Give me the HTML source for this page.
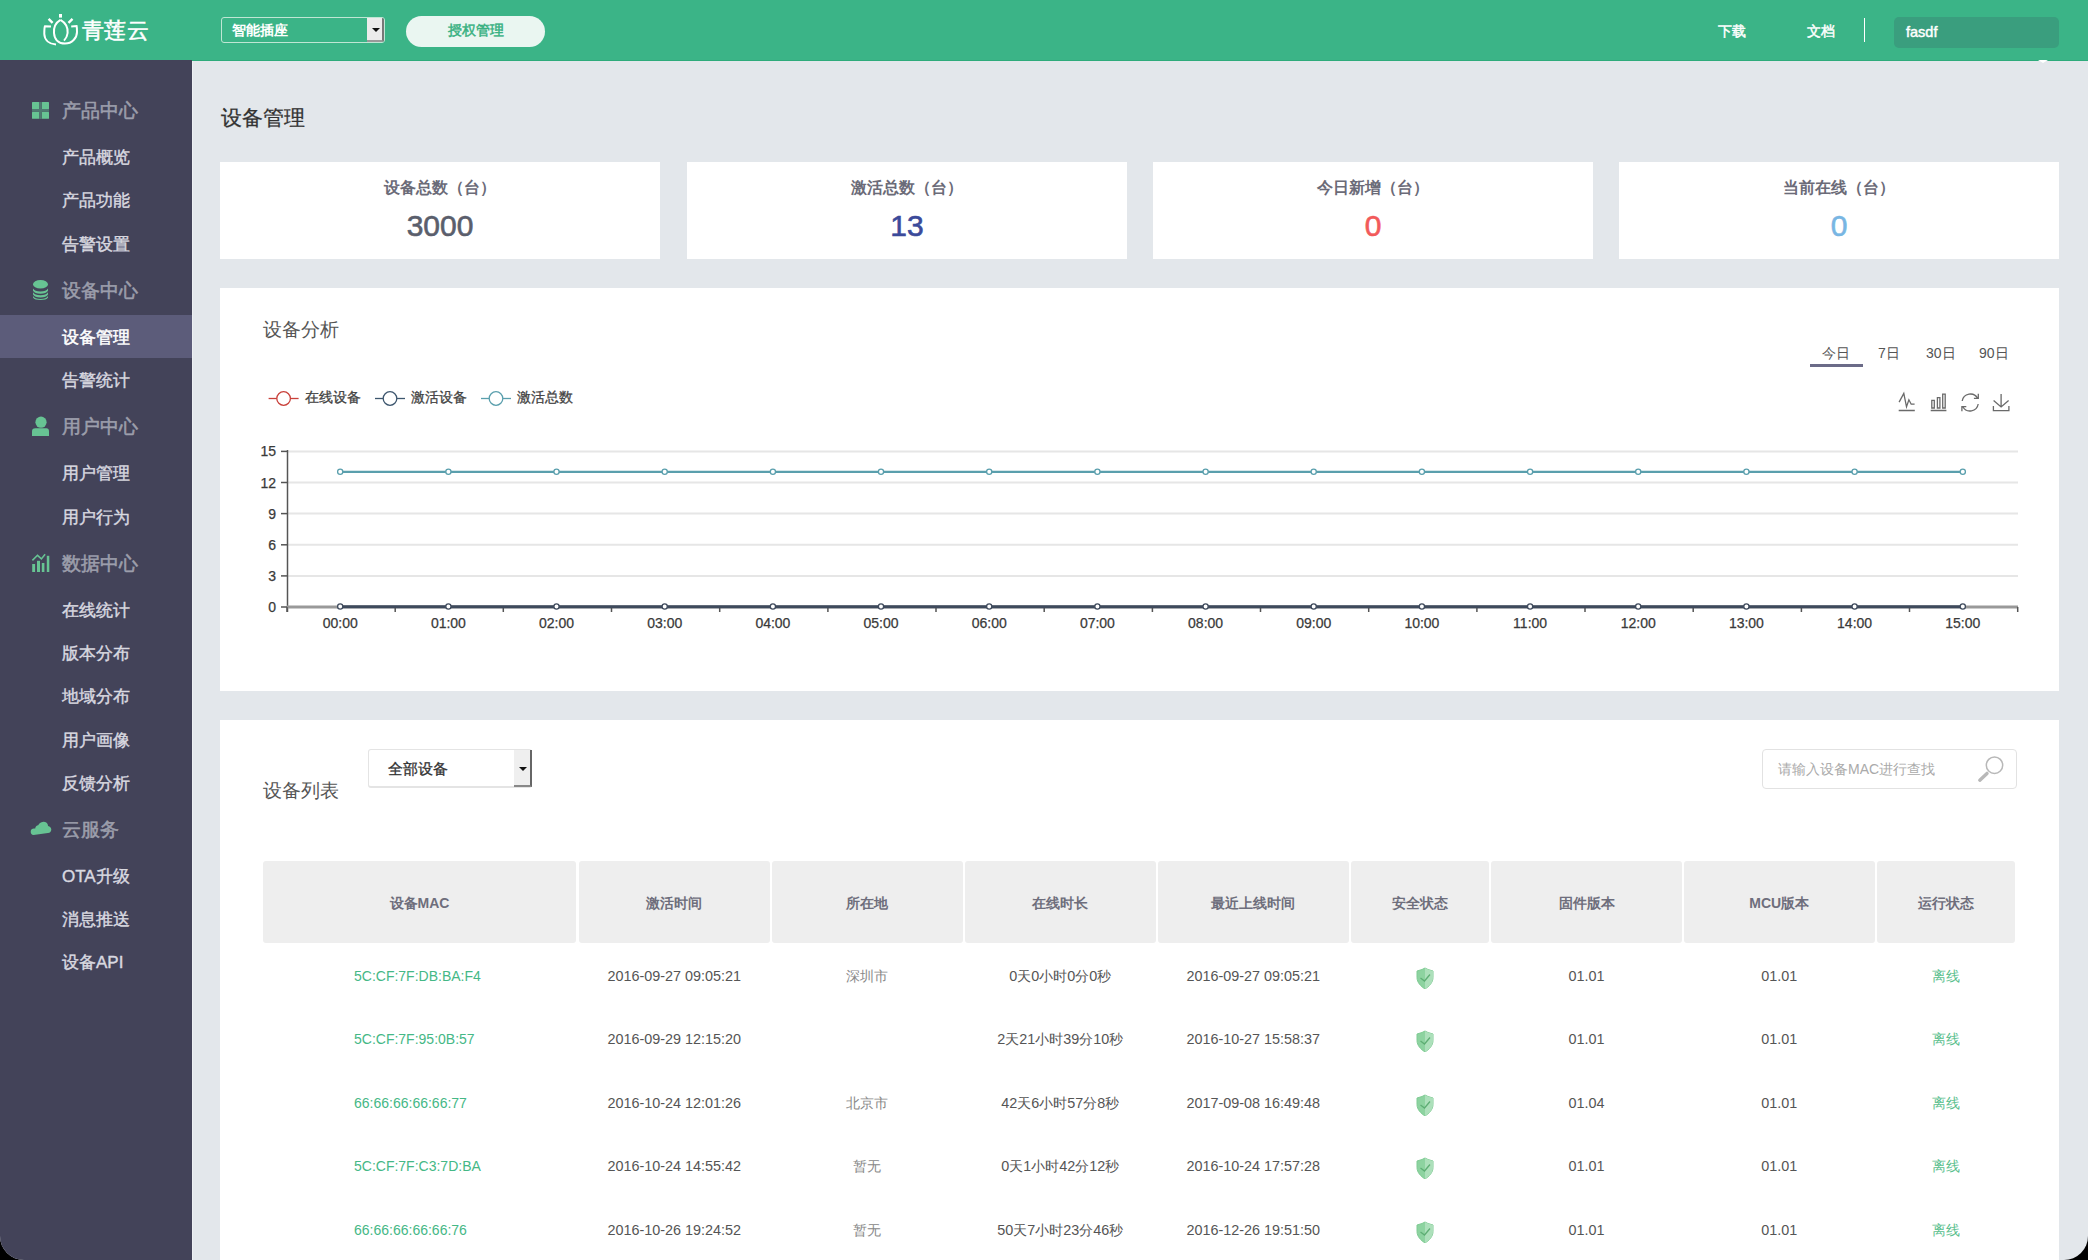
<!DOCTYPE html>
<html><head><meta charset="utf-8">
<style>
*{box-sizing:border-box;margin:0;padding:0}
html,body{width:2088px;height:1260px;overflow:hidden;background:#000}
body{font-family:"Liberation Sans",sans-serif;position:relative}
#app{position:absolute;left:0;top:0;width:2088px;height:1260px;background:#e3e7eb;border-radius:0 0 24px 24px;overflow:hidden}
.abs{position:absolute}
#hdr{position:absolute;left:0;top:0;width:2088px;height:60px;background:#3bb487}
#side{position:absolute;left:0;top:60px;width:192px;height:1200px;background:#434359}
.grp{position:absolute;left:62px;font-size:19px;color:#9c9eab;line-height:24px;white-space:nowrap;-webkit-text-stroke:0.55px #9c9eab}
.itm{position:absolute;left:62px;font-size:17px;color:#d9d9e0;line-height:20px;white-space:nowrap;-webkit-text-stroke:0.4px #d9d9e0}
.ico{position:absolute;left:31px}
.card{position:absolute;background:#fff}
.stt{position:absolute;left:0;right:0;text-align:center;font-size:16px;color:#6b6b78;top:16px;line-height:20px;font-weight:bold}
.stn{position:absolute;left:0;right:0;text-align:center;font-size:30px;top:46.5px;line-height:34px;-webkit-text-stroke:0.6px currentColor}
.lg{position:absolute;font-size:14.3px;color:#444;line-height:18px;white-space:nowrap;-webkit-text-stroke:0.3px #444}
.tab{position:absolute;font-size:14px;color:#555;line-height:18px;white-space:nowrap}
.th{position:absolute;top:861px;height:82px;background:#eeeeee;border-radius:3px;text-align:center;line-height:84px;font-size:14px;font-weight:bold;color:#6e6e7c}
.td{position:absolute;font-size:14.4px;color:#555;line-height:18px;white-space:nowrap;text-align:center}
.mac{color:#45b886;text-align:left;font-size:14px}
.loc{color:#888}
.off{color:#5cbf8f}
</style></head>
<body>
<div id="app">

  <div id="hdr">
    <svg class="abs" style="left:0;top:0" width="90" height="60" viewBox="0 0 90 60">
      <g fill="none" stroke="#fff" stroke-width="2">
        <path d="M60.5 19.8C55 23 53.6 28 54 33C54.5 40 59 43.6 65 43.6C72 43.6 77 38 77 32C77 29 76.9 27 76.6 26L71.2 26.6"/>
        <path d="M60.5 19.8C66 23 68 28 67.6 33C67.2 37 65.6 39 64 40.6"/>
        <path d="M51 26.5L45 26.2C44.4 27 44.3 30 44.3 34C44.5 40 49 44 56 44.6"/>
        <path d="M48.6 18.8L52.6 22.8M72.5 18.8L68.5 22.8" stroke-width="2.4"/>
      </g>
      <rect x="59" y="14" width="3" height="3.6" fill="#fff"/>
    </svg>
    <div class="abs" style="left:82px;top:17px;font-size:22px;color:#fff;line-height:28px;letter-spacing:0.3px;-webkit-text-stroke:0.5px #fff">青莲云</div>
    <div class="abs" style="left:221px;top:17px;width:164px;height:26px;border:1px solid #bfe6d4;border-radius:3px"></div>
    <div class="abs" style="left:367px;top:18px;width:17px;height:24px;background:#ececec;border-right:2px solid #777;border-bottom:2px solid #999;border-radius:0 2px 2px 0"></div>
    <div class="abs" style="left:371.5px;top:27.5px;width:0;height:0;border-left:4px solid transparent;border-right:4px solid transparent;border-top:4.5px solid #111"></div>
    <div class="abs" style="left:232px;top:20px;font-size:14px;color:#fff;font-weight:bold;line-height:20px">智能插座</div>
    <div class="abs" style="left:406px;top:15.5px;width:139px;height:31px;background:#eaf6f1;border-radius:16px;text-align:center;font-size:14px;color:#35b080;line-height:29px;-webkit-text-stroke:0.45px #35b080">授权管理</div>
    <div class="abs" style="left:1718px;top:21px;font-size:14px;color:#fff;line-height:20px;-webkit-text-stroke:0.45px #fff">下载</div>
    <div class="abs" style="left:1807px;top:21px;font-size:14px;color:#fff;line-height:20px;-webkit-text-stroke:0.45px #fff">文档</div>
    <div class="abs" style="left:1864px;top:18px;width:1px;height:24px;background:#fff"></div>
    <div class="abs" style="left:1894px;top:17px;width:165px;height:31px;background:#3a9e7e;border-radius:5px"></div>
    <div class="abs" style="left:1906px;top:22px;font-size:14.5px;color:#fff;line-height:20px;-webkit-text-stroke:0.45px #fff">fasdf</div>
  </div>
  <div class="abs" style="left:192px;top:60px;width:1896px;height:1px;background:#2eab7b"></div>
  <div class="abs" style="left:192px;top:61px;width:1px;height:1199px;background:#edf0f3"></div>
  <div class="abs" style="left:2038px;top:60px;width:0;height:0;border-left:5px solid transparent;border-right:5px solid transparent;border-top:3px solid #fff"></div>
  <div id="side">
    <div class="abs" style="left:0;top:255px;width:192px;height:43px;background:#5c5c7a"></div>
    <div class="grp" style="top:39px">产品中心</div>
    <div class="itm" style="top:87.5px">产品概览</div>
    <div class="itm" style="top:130.5px">产品功能</div>
    <div class="itm" style="top:174.5px">告警设置</div>
    <div class="grp" style="top:219px">设备中心</div>
    <div class="itm" style="top:267.5px;color:#fff;-webkit-text-stroke:0.5px #fff">设备管理</div>
    <div class="itm" style="top:310.5px">告警统计</div>
    <div class="grp" style="top:355px">用户中心</div>
    <div class="itm" style="top:403.5px">用户管理</div>
    <div class="itm" style="top:447.5px">用户行为</div>
    <div class="grp" style="top:492px">数据中心</div>
    <div class="itm" style="top:540.5px">在线统计</div>
    <div class="itm" style="top:583.5px">版本分布</div>
    <div class="itm" style="top:626.5px">地域分布</div>
    <div class="itm" style="top:670.5px">用户画像</div>
    <div class="itm" style="top:713.5px">反馈分析</div>
    <div class="grp" style="top:758px">云服务</div>
    <div class="itm" style="top:806.5px">OTA升级</div>
    <div class="itm" style="top:849.5px">消息推送</div>
    <div class="itm" style="top:892.5px">设备API</div>
    <svg class="abs" style="left:0;top:-60px" width="60" height="900" viewBox="0 0 60 900">
      <g fill="#67c393">
        <rect x="32" y="102" width="7.3" height="7" rx="0.5"/><rect x="41.8" y="102" width="7.2" height="7" rx="0.5"/>
        <rect x="32" y="111.8" width="7.3" height="7" rx="0.5"/><rect x="41.8" y="111.8" width="7.2" height="7" rx="0.5"/>
        <rect x="39.3" y="102" width="2.5" height="17" fill="#4f7a72"/><rect x="32" y="109" width="17" height="2.8" fill="#4f7a72"/>
        <ellipse cx="40.5" cy="284.3" rx="7.5" ry="4.3"/>
        <path d="M33 288.5c1 1.8 3.8 3 7.5 3s6.5-1.2 7.5-3v2.2c-1 1.8-3.8 3-7.5 3s-6.5-1.2-7.5-3z"/>
        <path d="M33 292.3c1 1.8 3.8 3 7.5 3s6.5-1.2 7.5-3v2.2c-1 1.8-3.8 3-7.5 3s-6.5-1.2-7.5-3z"/>
        <path d="M33 296c1 1.8 3.8 3 7.5 3s6.5-1.2 7.5-3v1.5c-1 1.8-3.8 2.5-7.5 2.5s-6.5-.7-7.5-2.5z"/>
        <circle cx="41" cy="422.2" r="5.6"/>
        <path d="M35.5 428.3h11c1.5 0 2.5 1 2.5 3v4.7h-17v-4.7c0-2 1-3 3.5-3z"/>
        <rect x="32.2" y="564" width="2.9" height="8"/><rect x="37" y="560.8" width="3" height="11.2"/>
        <rect x="41.8" y="563" width="2.6" height="9"/><rect x="46.8" y="555.8" width="2.5" height="16.2"/>
        <path d="M32.4 560.4L37.5 555.3L41.4 558.9L45.1 554.2" fill="none" stroke="#67c393" stroke-width="1.6"/>
        <path d="M33.5 835c-1.8 0-2.8-1.6-2.8-3.2c0-2 1.4-3.2 3.2-3.2h1.3c.2-2 1.4-3.2 3-3.4c.5-1 2.5-3.4 5.2-3.4c2.6 0 4.4 1.4 4.7 4.2c1.8 .3 3.2 1.6 3.2 3.6c0 2-1.3 3.4-3.3 3.4z"/>
      </g>
    </svg>
  </div>

  <div class="abs" style="left:221px;top:104px;font-size:21.3px;color:#333;line-height:28px;-webkit-text-stroke:0.25px #333">设备管理</div>
  <div class="card" style="left:220px;top:162px;width:440px;height:97px"><div class="stt">设备总数（台）</div><div class="stn" style="color:#5a5e6c">3000</div></div>
  <div class="card" style="left:687px;top:162px;width:440px;height:97px"><div class="stt">激活总数（台）</div><div class="stn" style="color:#3b4a9a">13</div></div>
  <div class="card" style="left:1153px;top:162px;width:440px;height:97px"><div class="stt">今日新增（台）</div><div class="stn" style="color:#f25a5a">0</div></div>
  <div class="card" style="left:1619px;top:162px;width:440px;height:97px"><div class="stt">当前在线（台）</div><div class="stn" style="color:#78b6e3">0</div></div>
  <div class="card" id="chart" style="left:220px;top:288px;width:1839px;height:403px"></div>
<svg class="abs" style="left:221px;top:288px" width="1837" height="402" viewBox="221 288 1837 402">
<line x1="281" y1="607.0" x2="287" y2="607.0" stroke="#555" stroke-width="1.5"/>
<text x="276" y="612.0" text-anchor="end" font-size="14" fill="#3a3a3a" stroke="#3a3a3a" stroke-width="0.25">0</text>
<line x1="287" y1="575.9" x2="2018" y2="575.9" stroke="#e6e6e6" stroke-width="2"/>
<line x1="281" y1="575.9" x2="287" y2="575.9" stroke="#555" stroke-width="1.5"/>
<text x="276" y="580.9" text-anchor="end" font-size="14" fill="#3a3a3a" stroke="#3a3a3a" stroke-width="0.25">3</text>
<line x1="287" y1="544.8" x2="2018" y2="544.8" stroke="#e6e6e6" stroke-width="2"/>
<line x1="281" y1="544.8" x2="287" y2="544.8" stroke="#555" stroke-width="1.5"/>
<text x="276" y="549.8" text-anchor="end" font-size="14" fill="#3a3a3a" stroke="#3a3a3a" stroke-width="0.25">6</text>
<line x1="287" y1="513.6" x2="2018" y2="513.6" stroke="#e6e6e6" stroke-width="2"/>
<line x1="281" y1="513.6" x2="287" y2="513.6" stroke="#555" stroke-width="1.5"/>
<text x="276" y="518.6" text-anchor="end" font-size="14" fill="#3a3a3a" stroke="#3a3a3a" stroke-width="0.25">9</text>
<line x1="287" y1="482.5" x2="2018" y2="482.5" stroke="#e6e6e6" stroke-width="2"/>
<line x1="281" y1="482.5" x2="287" y2="482.5" stroke="#555" stroke-width="1.5"/>
<text x="276" y="487.5" text-anchor="end" font-size="14" fill="#3a3a3a" stroke="#3a3a3a" stroke-width="0.25">12</text>
<line x1="287" y1="451.4" x2="2018" y2="451.4" stroke="#e6e6e6" stroke-width="2"/>
<line x1="281" y1="451.4" x2="287" y2="451.4" stroke="#555" stroke-width="1.5"/>
<text x="276" y="456.4" text-anchor="end" font-size="14" fill="#3a3a3a" stroke="#3a3a3a" stroke-width="0.25">15</text>
<line x1="287.5" y1="450" x2="287.5" y2="612" stroke="#555" stroke-width="1.5"/>
<line x1="287" y1="607" x2="2018" y2="607" stroke="#999" stroke-width="3"/>
<line x1="287.0" y1="607" x2="287.0" y2="612" stroke="#555" stroke-width="1.5"/>
<line x1="395.2" y1="607" x2="395.2" y2="612" stroke="#555" stroke-width="1.5"/>
<line x1="503.3" y1="607" x2="503.3" y2="612" stroke="#555" stroke-width="1.5"/>
<line x1="611.5" y1="607" x2="611.5" y2="612" stroke="#555" stroke-width="1.5"/>
<line x1="719.7" y1="607" x2="719.7" y2="612" stroke="#555" stroke-width="1.5"/>
<line x1="827.9" y1="607" x2="827.9" y2="612" stroke="#555" stroke-width="1.5"/>
<line x1="936.0" y1="607" x2="936.0" y2="612" stroke="#555" stroke-width="1.5"/>
<line x1="1044.2" y1="607" x2="1044.2" y2="612" stroke="#555" stroke-width="1.5"/>
<line x1="1152.4" y1="607" x2="1152.4" y2="612" stroke="#555" stroke-width="1.5"/>
<line x1="1260.5" y1="607" x2="1260.5" y2="612" stroke="#555" stroke-width="1.5"/>
<line x1="1368.7" y1="607" x2="1368.7" y2="612" stroke="#555" stroke-width="1.5"/>
<line x1="1476.9" y1="607" x2="1476.9" y2="612" stroke="#555" stroke-width="1.5"/>
<line x1="1585.0" y1="607" x2="1585.0" y2="612" stroke="#555" stroke-width="1.5"/>
<line x1="1693.2" y1="607" x2="1693.2" y2="612" stroke="#555" stroke-width="1.5"/>
<line x1="1801.4" y1="607" x2="1801.4" y2="612" stroke="#555" stroke-width="1.5"/>
<line x1="1909.5" y1="607" x2="1909.5" y2="612" stroke="#555" stroke-width="1.5"/>
<line x1="2017.7" y1="607" x2="2017.7" y2="612" stroke="#555" stroke-width="1.5"/>
<text x="340.2" y="627.6" text-anchor="middle" font-size="14" fill="#3a3a3a" stroke="#3a3a3a" stroke-width="0.25">00:00</text>
<text x="448.4" y="627.6" text-anchor="middle" font-size="14" fill="#3a3a3a" stroke="#3a3a3a" stroke-width="0.25">01:00</text>
<text x="556.5" y="627.6" text-anchor="middle" font-size="14" fill="#3a3a3a" stroke="#3a3a3a" stroke-width="0.25">02:00</text>
<text x="664.7" y="627.6" text-anchor="middle" font-size="14" fill="#3a3a3a" stroke="#3a3a3a" stroke-width="0.25">03:00</text>
<text x="772.9" y="627.6" text-anchor="middle" font-size="14" fill="#3a3a3a" stroke="#3a3a3a" stroke-width="0.25">04:00</text>
<text x="881.0" y="627.6" text-anchor="middle" font-size="14" fill="#3a3a3a" stroke="#3a3a3a" stroke-width="0.25">05:00</text>
<text x="989.2" y="627.6" text-anchor="middle" font-size="14" fill="#3a3a3a" stroke="#3a3a3a" stroke-width="0.25">06:00</text>
<text x="1097.4" y="627.6" text-anchor="middle" font-size="14" fill="#3a3a3a" stroke="#3a3a3a" stroke-width="0.25">07:00</text>
<text x="1205.6" y="627.6" text-anchor="middle" font-size="14" fill="#3a3a3a" stroke="#3a3a3a" stroke-width="0.25">08:00</text>
<text x="1313.7" y="627.6" text-anchor="middle" font-size="14" fill="#3a3a3a" stroke="#3a3a3a" stroke-width="0.25">09:00</text>
<text x="1421.9" y="627.6" text-anchor="middle" font-size="14" fill="#3a3a3a" stroke="#3a3a3a" stroke-width="0.25">10:00</text>
<text x="1530.1" y="627.6" text-anchor="middle" font-size="14" fill="#3a3a3a" stroke="#3a3a3a" stroke-width="0.25">11:00</text>
<text x="1638.2" y="627.6" text-anchor="middle" font-size="14" fill="#3a3a3a" stroke="#3a3a3a" stroke-width="0.25">12:00</text>
<text x="1746.4" y="627.6" text-anchor="middle" font-size="14" fill="#3a3a3a" stroke="#3a3a3a" stroke-width="0.25">13:00</text>
<text x="1854.6" y="627.6" text-anchor="middle" font-size="14" fill="#3a3a3a" stroke="#3a3a3a" stroke-width="0.25">14:00</text>
<text x="1962.8" y="627.6" text-anchor="middle" font-size="14" fill="#3a3a3a" stroke="#3a3a3a" stroke-width="0.25">15:00</text>
<line x1="340.2" y1="471.8" x2="1962.8" y2="471.8" stroke="#5a9fad" stroke-width="2.2"/>
<line x1="340.2" y1="606.8" x2="1962.8" y2="606.8" stroke="#3e4a5c" stroke-width="3"/>
<circle cx="340.2" cy="471.8" r="2.6" fill="#fff" stroke="#5a9fad" stroke-width="1.3"/>
<circle cx="340.2" cy="606.5" r="2.6" fill="#fff" stroke="#3e4a5c" stroke-width="1.3"/>
<circle cx="448.4" cy="471.8" r="2.6" fill="#fff" stroke="#5a9fad" stroke-width="1.3"/>
<circle cx="448.4" cy="606.5" r="2.6" fill="#fff" stroke="#3e4a5c" stroke-width="1.3"/>
<circle cx="556.5" cy="471.8" r="2.6" fill="#fff" stroke="#5a9fad" stroke-width="1.3"/>
<circle cx="556.5" cy="606.5" r="2.6" fill="#fff" stroke="#3e4a5c" stroke-width="1.3"/>
<circle cx="664.7" cy="471.8" r="2.6" fill="#fff" stroke="#5a9fad" stroke-width="1.3"/>
<circle cx="664.7" cy="606.5" r="2.6" fill="#fff" stroke="#3e4a5c" stroke-width="1.3"/>
<circle cx="772.9" cy="471.8" r="2.6" fill="#fff" stroke="#5a9fad" stroke-width="1.3"/>
<circle cx="772.9" cy="606.5" r="2.6" fill="#fff" stroke="#3e4a5c" stroke-width="1.3"/>
<circle cx="881.0" cy="471.8" r="2.6" fill="#fff" stroke="#5a9fad" stroke-width="1.3"/>
<circle cx="881.0" cy="606.5" r="2.6" fill="#fff" stroke="#3e4a5c" stroke-width="1.3"/>
<circle cx="989.2" cy="471.8" r="2.6" fill="#fff" stroke="#5a9fad" stroke-width="1.3"/>
<circle cx="989.2" cy="606.5" r="2.6" fill="#fff" stroke="#3e4a5c" stroke-width="1.3"/>
<circle cx="1097.4" cy="471.8" r="2.6" fill="#fff" stroke="#5a9fad" stroke-width="1.3"/>
<circle cx="1097.4" cy="606.5" r="2.6" fill="#fff" stroke="#3e4a5c" stroke-width="1.3"/>
<circle cx="1205.6" cy="471.8" r="2.6" fill="#fff" stroke="#5a9fad" stroke-width="1.3"/>
<circle cx="1205.6" cy="606.5" r="2.6" fill="#fff" stroke="#3e4a5c" stroke-width="1.3"/>
<circle cx="1313.7" cy="471.8" r="2.6" fill="#fff" stroke="#5a9fad" stroke-width="1.3"/>
<circle cx="1313.7" cy="606.5" r="2.6" fill="#fff" stroke="#3e4a5c" stroke-width="1.3"/>
<circle cx="1421.9" cy="471.8" r="2.6" fill="#fff" stroke="#5a9fad" stroke-width="1.3"/>
<circle cx="1421.9" cy="606.5" r="2.6" fill="#fff" stroke="#3e4a5c" stroke-width="1.3"/>
<circle cx="1530.1" cy="471.8" r="2.6" fill="#fff" stroke="#5a9fad" stroke-width="1.3"/>
<circle cx="1530.1" cy="606.5" r="2.6" fill="#fff" stroke="#3e4a5c" stroke-width="1.3"/>
<circle cx="1638.2" cy="471.8" r="2.6" fill="#fff" stroke="#5a9fad" stroke-width="1.3"/>
<circle cx="1638.2" cy="606.5" r="2.6" fill="#fff" stroke="#3e4a5c" stroke-width="1.3"/>
<circle cx="1746.4" cy="471.8" r="2.6" fill="#fff" stroke="#5a9fad" stroke-width="1.3"/>
<circle cx="1746.4" cy="606.5" r="2.6" fill="#fff" stroke="#3e4a5c" stroke-width="1.3"/>
<circle cx="1854.6" cy="471.8" r="2.6" fill="#fff" stroke="#5a9fad" stroke-width="1.3"/>
<circle cx="1854.6" cy="606.5" r="2.6" fill="#fff" stroke="#3e4a5c" stroke-width="1.3"/>
<circle cx="1962.8" cy="471.8" r="2.6" fill="#fff" stroke="#5a9fad" stroke-width="1.3"/>
<circle cx="1962.8" cy="606.5" r="2.6" fill="#fff" stroke="#3e4a5c" stroke-width="1.3"/>
<line x1="268.6" y1="398.5" x2="298.6" y2="398.5" stroke="#c9403a" stroke-width="1.3"/>
<circle cx="283.6" cy="398.5" r="6.8" fill="#fff" stroke="#c9403a" stroke-width="1.3"/>
<line x1="375" y1="398.5" x2="405" y2="398.5" stroke="#3d566e" stroke-width="1.3"/>
<circle cx="390" cy="398.5" r="6.8" fill="#fff" stroke="#3d566e" stroke-width="1.3"/>
<line x1="481" y1="398.5" x2="511" y2="398.5" stroke="#5a9fad" stroke-width="1.3"/>
<circle cx="496" cy="398.5" r="6.8" fill="#fff" stroke="#5a9fad" stroke-width="1.3"/>
<g fill="none" stroke="#6a6a6a" stroke-width="1.3">
<path d="M1898.7 410.5h16.1M1899.1 402.1L1903.8 393.4L1906.5 406.8L1908.9 399.8L1911.2 404.2H1914.6"/>
<path d="M1930.7 410.5h15.7M1931.8 408v-7.6h2.5v7.6zM1937.4 408v-10.4h2.5v10.4zM1942.7 408v-13.8h2.5v13.8z"/>
<path d="M1962.2 401A8.3 8.3 0 0 1 1977.6 398.2M1978.2 404A8.3 8.3 0 0 1 1962.8 406.8M1978.3 393.8v4.6h-4.4M1961.9 411.2v-4.6h4.4"/>
<path d="M2001.1 394.1v12.7M1993.6 400.5l7.5 6.5 7.5-6.5M1993.4 406v4.6h15.5v-4.6"/>
</g>
</svg>
  <div class="abs" style="left:263px;top:318px;font-size:19px;color:#555;line-height:24px">设备分析</div>
  <div class="lg" style="left:305px;top:388.3px">在线设备</div>
  <div class="lg" style="left:411px;top:388.3px">激活设备</div>
  <div class="lg" style="left:517px;top:388.3px">激活总数</div>
  <div class="tab" style="left:1822px;top:344px">今日</div>
  <div class="tab" style="left:1878px;top:344px">7日</div>
  <div class="tab" style="left:1926px;top:344px">30日</div>
  <div class="tab" style="left:1979px;top:344px">90日</div>
  <div class="abs" style="left:1810px;top:364px;width:53px;height:3px;background:#6b6b88"></div>

  <div class="card" id="tbl" style="left:220px;top:720px;width:1839px;height:560px"></div>

  <div class="abs" style="left:263px;top:779px;font-size:19px;color:#555;line-height:24px">设备列表</div>
  <div class="abs" style="left:368px;top:748.5px;width:164px;height:39.5px;border:1.5px solid #e4e4e4;border-bottom-width:2px;border-radius:3px;background:#fff"></div>
  <div class="abs" style="left:514px;top:750px;width:18px;height:37px;background:#efefef;border-right:2px solid #666;border-bottom:2px solid #888"></div>
  <div class="abs" style="left:519px;top:767px;width:0;height:0;border-left:4px solid transparent;border-right:4px solid transparent;border-top:4px solid #111"></div>
  <div class="abs" style="left:388px;top:759.5px;font-size:14.8px;color:#333;line-height:18px;-webkit-text-stroke:0.3px #333">全部设备</div>
  <div class="abs" style="left:1762px;top:748.5px;width:255px;height:40.5px;border:1.5px solid #e2e2e2;border-radius:4px;background:#fff"></div>
  <div class="abs" style="left:1778px;top:760px;font-size:14px;color:#aaa;line-height:18px">请输入设备MAC进行查找</div>
  <svg class="abs" style="left:1975px;top:752px" width="32" height="32" viewBox="0 0 32 32"><circle cx="19.5" cy="13.2" r="8.2" fill="none" stroke="#b8b8b8" stroke-width="1.5"/><path d="M12 21.4l-7.2 6.8" stroke="#b8b8b8" stroke-width="3.4" stroke-linecap="round"/></svg>

  <div class="th" style="left:263px;width:313px">设备MAC</div>
  <div class="th" style="left:579px;width:190.5px">激活时间</div>
  <div class="th" style="left:772px;width:190.5px">所在地</div>
  <div class="th" style="left:965px;width:190.5px">在线时长</div>
  <div class="th" style="left:1158px;width:190.5px">最近上线时间</div>
  <div class="th" style="left:1351px;width:138px">安全状态</div>
  <div class="th" style="left:1491px;width:191px">固件版本</div>
  <div class="th" style="left:1684px;width:190.5px">MCU版本</div>
  <div class="th" style="left:1877px;width:138px">运行状态</div>
  <div class="td mac" style="left:354px;top:966.8px">5C:CF:7F:DB:BA:F4</div>
  <div class="td" style="left:579px;width:190.5px;top:966.8px">2016-09-27 09:05:21</div>
  <div class="td loc" style="left:772px;width:190.5px;top:966.8px">深圳市</div>
  <div class="td" style="left:965px;width:190.5px;top:966.8px">0天0小时0分0秒</div>
  <div class="td" style="left:1158px;width:190.5px;top:966.8px">2016-09-27 09:05:21</div>
  <div class="td" style="left:1491px;width:191px;top:966.8px">01.01</div>
  <div class="td" style="left:1684px;width:190.5px;top:966.8px">01.01</div>
  <div class="td off" style="left:1877px;width:138px;top:966.8px">离线</div>
  <svg class="abs" style="left:1414.5px;top:966.8px" width="20" height="22" viewBox="0 0 20 22"><path d="M10 1l3 1.5 5 1.5v6.5c0 5-4 9-8 11.5c-4-2.5-8-6.5-8-11.5v-6.5l5-1.5z" fill="#8dd3a0" stroke="#7fcb93" stroke-width="1"/><path d="M10 1l3 1.5 5 1.5v6.5c0 5-4 9-8 11.5z" fill="#ade0bb"/><path d="M5.5 11l4 3 5.5-6.5" fill="none" stroke="#5eae74" stroke-width="1.3"/></svg>
  <div class="td mac" style="left:354px;top:1030.3px">5C:CF:7F:95:0B:57</div>
  <div class="td" style="left:579px;width:190.5px;top:1030.3px">2016-09-29 12:15:20</div>
  <div class="td loc" style="left:772px;width:190.5px;top:1030.3px"></div>
  <div class="td" style="left:965px;width:190.5px;top:1030.3px">2天21小时39分10秒</div>
  <div class="td" style="left:1158px;width:190.5px;top:1030.3px">2016-10-27 15:58:37</div>
  <div class="td" style="left:1491px;width:191px;top:1030.3px">01.01</div>
  <div class="td" style="left:1684px;width:190.5px;top:1030.3px">01.01</div>
  <div class="td off" style="left:1877px;width:138px;top:1030.3px">离线</div>
  <svg class="abs" style="left:1414.5px;top:1030.3px" width="20" height="22" viewBox="0 0 20 22"><path d="M10 1l3 1.5 5 1.5v6.5c0 5-4 9-8 11.5c-4-2.5-8-6.5-8-11.5v-6.5l5-1.5z" fill="#8dd3a0" stroke="#7fcb93" stroke-width="1"/><path d="M10 1l3 1.5 5 1.5v6.5c0 5-4 9-8 11.5z" fill="#ade0bb"/><path d="M5.5 11l4 3 5.5-6.5" fill="none" stroke="#5eae74" stroke-width="1.3"/></svg>
  <div class="td mac" style="left:354px;top:1093.8px">66:66:66:66:66:77</div>
  <div class="td" style="left:579px;width:190.5px;top:1093.8px">2016-10-24 12:01:26</div>
  <div class="td loc" style="left:772px;width:190.5px;top:1093.8px">北京市</div>
  <div class="td" style="left:965px;width:190.5px;top:1093.8px">42天6小时57分8秒</div>
  <div class="td" style="left:1158px;width:190.5px;top:1093.8px">2017-09-08 16:49:48</div>
  <div class="td" style="left:1491px;width:191px;top:1093.8px">01.04</div>
  <div class="td" style="left:1684px;width:190.5px;top:1093.8px">01.01</div>
  <div class="td off" style="left:1877px;width:138px;top:1093.8px">离线</div>
  <svg class="abs" style="left:1414.5px;top:1093.8px" width="20" height="22" viewBox="0 0 20 22"><path d="M10 1l3 1.5 5 1.5v6.5c0 5-4 9-8 11.5c-4-2.5-8-6.5-8-11.5v-6.5l5-1.5z" fill="#8dd3a0" stroke="#7fcb93" stroke-width="1"/><path d="M10 1l3 1.5 5 1.5v6.5c0 5-4 9-8 11.5z" fill="#ade0bb"/><path d="M5.5 11l4 3 5.5-6.5" fill="none" stroke="#5eae74" stroke-width="1.3"/></svg>
  <div class="td mac" style="left:354px;top:1157.2px">5C:CF:7F:C3:7D:BA</div>
  <div class="td" style="left:579px;width:190.5px;top:1157.2px">2016-10-24 14:55:42</div>
  <div class="td loc" style="left:772px;width:190.5px;top:1157.2px">暂无</div>
  <div class="td" style="left:965px;width:190.5px;top:1157.2px">0天1小时42分12秒</div>
  <div class="td" style="left:1158px;width:190.5px;top:1157.2px">2016-10-24 17:57:28</div>
  <div class="td" style="left:1491px;width:191px;top:1157.2px">01.01</div>
  <div class="td" style="left:1684px;width:190.5px;top:1157.2px">01.01</div>
  <div class="td off" style="left:1877px;width:138px;top:1157.2px">离线</div>
  <svg class="abs" style="left:1414.5px;top:1157.2px" width="20" height="22" viewBox="0 0 20 22"><path d="M10 1l3 1.5 5 1.5v6.5c0 5-4 9-8 11.5c-4-2.5-8-6.5-8-11.5v-6.5l5-1.5z" fill="#8dd3a0" stroke="#7fcb93" stroke-width="1"/><path d="M10 1l3 1.5 5 1.5v6.5c0 5-4 9-8 11.5z" fill="#ade0bb"/><path d="M5.5 11l4 3 5.5-6.5" fill="none" stroke="#5eae74" stroke-width="1.3"/></svg>
  <div class="td mac" style="left:354px;top:1220.7px">66:66:66:66:66:76</div>
  <div class="td" style="left:579px;width:190.5px;top:1220.7px">2016-10-26 19:24:52</div>
  <div class="td loc" style="left:772px;width:190.5px;top:1220.7px">暂无</div>
  <div class="td" style="left:965px;width:190.5px;top:1220.7px">50天7小时23分46秒</div>
  <div class="td" style="left:1158px;width:190.5px;top:1220.7px">2016-12-26 19:51:50</div>
  <div class="td" style="left:1491px;width:191px;top:1220.7px">01.01</div>
  <div class="td" style="left:1684px;width:190.5px;top:1220.7px">01.01</div>
  <div class="td off" style="left:1877px;width:138px;top:1220.7px">离线</div>
  <svg class="abs" style="left:1414.5px;top:1220.7px" width="20" height="22" viewBox="0 0 20 22"><path d="M10 1l3 1.5 5 1.5v6.5c0 5-4 9-8 11.5c-4-2.5-8-6.5-8-11.5v-6.5l5-1.5z" fill="#8dd3a0" stroke="#7fcb93" stroke-width="1"/><path d="M10 1l3 1.5 5 1.5v6.5c0 5-4 9-8 11.5z" fill="#ade0bb"/><path d="M5.5 11l4 3 5.5-6.5" fill="none" stroke="#5eae74" stroke-width="1.3"/></svg>
</div>
</body></html>
